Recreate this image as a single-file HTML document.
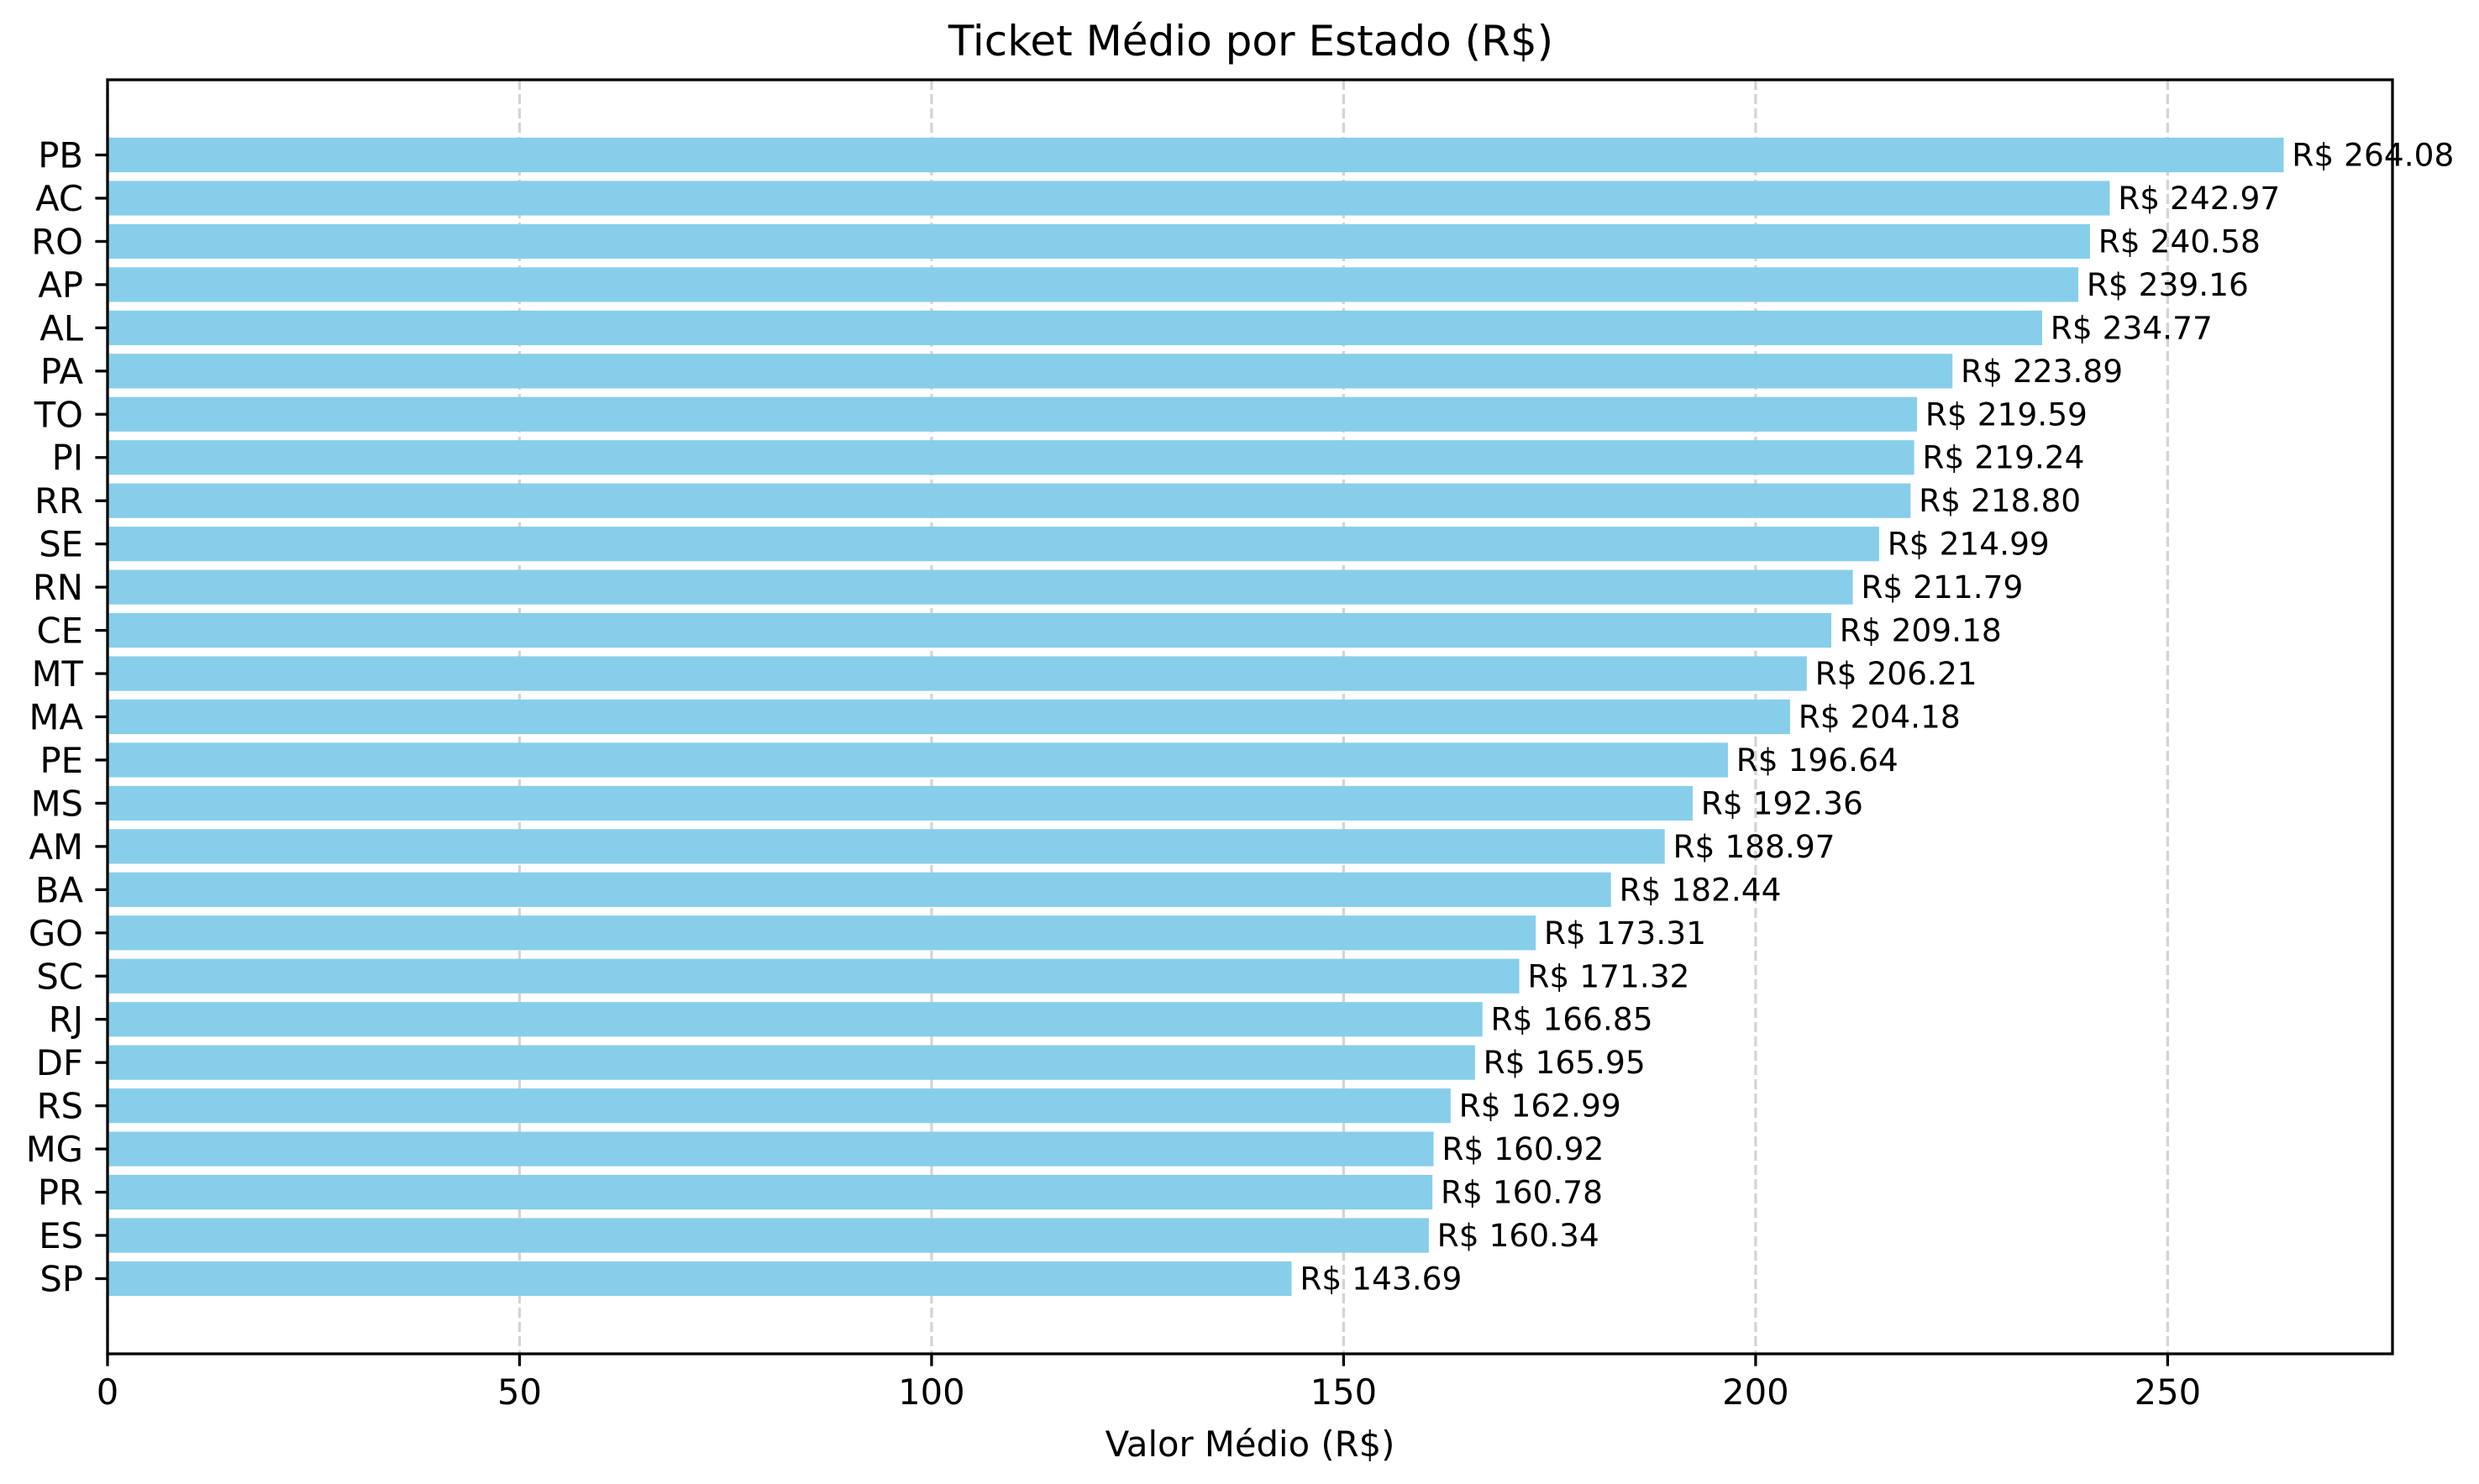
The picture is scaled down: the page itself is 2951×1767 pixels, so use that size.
<!DOCTYPE html>
<html><head><meta charset="utf-8"><style>
html,body{margin:0;padding:0;background:#fff}
svg{display:block;font-family:"DejaVu Sans","Liberation Sans",sans-serif}
</style></head><body>
<svg id="chart" width="2951" height="1767" viewBox="0 0 2951 1767" xmlns="http://www.w3.org/2000/svg">
<rect x="0" y="0" width="2951" height="1767" fill="#fff"/>
<g id="grid"></g>
<g id="bars"></g>
<g id="labels"></g>
<g id="axes"></g>
<text x="1489" y="66" font-size="50" text-anchor="middle">Ticket Médio por Estado (R$)</text>
<text x="1488" y="1734" font-size="41.7" text-anchor="middle">Valor Médio (R$)</text>
</svg>
<script>
const categories = ["PB","AC","RO","AP","AL","PA","TO","PI","RR","SE","RN","CE","MT","MA","PE","MS","AM","BA","GO","SC","RJ","DF","RS","MG","PR","ES","SP"];
const values = [264.08,242.97,240.58,239.16,234.77,223.89,219.59,219.24,218.80,214.99,211.79,209.18,206.21,204.18,196.64,192.36,188.97,182.44,173.31,171.32,166.85,165.95,162.99,160.92,160.78,160.34,143.69];
const xTicks = [0,50,100,150,200,250];

const NS = "http://www.w3.org/2000/svg";
const L = 128, R = 2848, T = 95, B = 1612;
const n = categories.length;
const xMax = Math.max(...values) * 1.05;
const yMin = -0.4 - 0.05 * (n - 1 + 0.8), yMax = (n - 1) + 0.4 + 0.05 * (n - 1 + 0.8);
function xs(v){ return L + (v / xMax) * (R - L); }
function ys(i){ const pos = n - 1 - i; return B - (pos - yMin) / (yMax - yMin) * (B - T); }
const step = (B - T) / (yMax - yMin);
function mk(tag, attrs, parent){ const e = document.createElementNS(NS, tag); for (const k in attrs) e.setAttribute(k, attrs[k]); parent.appendChild(e); return e; }

const grid = document.getElementById('grid');
const bars = document.getElementById('bars');
const labels = document.getElementById('labels');
const axes = document.getElementById('axes');

xTicks.forEach(t => {
  const g = mk('line', {x1: xs(t), x2: xs(t), y1: T, y2: B, stroke: '#b0b0b0', 'stroke-opacity': 0.55, 'stroke-width': 3.3, 'stroke-dasharray': '12,5'}, grid);
  
  
});

categories.forEach((c, i) => {
  const cy = ys(i), h = 0.8 * step;
  const r = mk('rect', {x: xs(0), y: cy - h / 2, width: xs(values[i]) - xs(0), height: h, fill: '#87ceeb'}, bars);
  
  
  const tl = mk('text', {x: xs(values[i] + 1), y: cy + 13, 'font-size': 37.5}, labels);
  tl.textContent = 'R$ ' + values[i].toFixed(2);
  
  
  const tk = mk('line', {x1: L - 14.6, x2: L, y1: cy, y2: cy, stroke: '#000', 'stroke-width': 3.3}, axes);
  
  
  const yl = mk('text', {x: L - 29, y: cy + 15, 'font-size': 41.7, 'text-anchor': 'end'}, axes);
  yl.textContent = c;
  
  
});

xTicks.forEach(t => {
  const tk = mk('line', {x1: xs(t), x2: xs(t), y1: B, y2: B + 14.6, stroke: '#000', 'stroke-width': 3.3}, axes);
  
  
  const tl = mk('text', {x: xs(t), y: B + 60, 'font-size': 41.7, 'text-anchor': 'middle'}, axes);
  tl.textContent = t;
  
  
});

const frame = mk('rect', {x: L, y: T, width: R - L, height: B - T, fill: 'none', stroke: '#000', 'stroke-width': 3.3}, axes);


</script>
</body></html>
